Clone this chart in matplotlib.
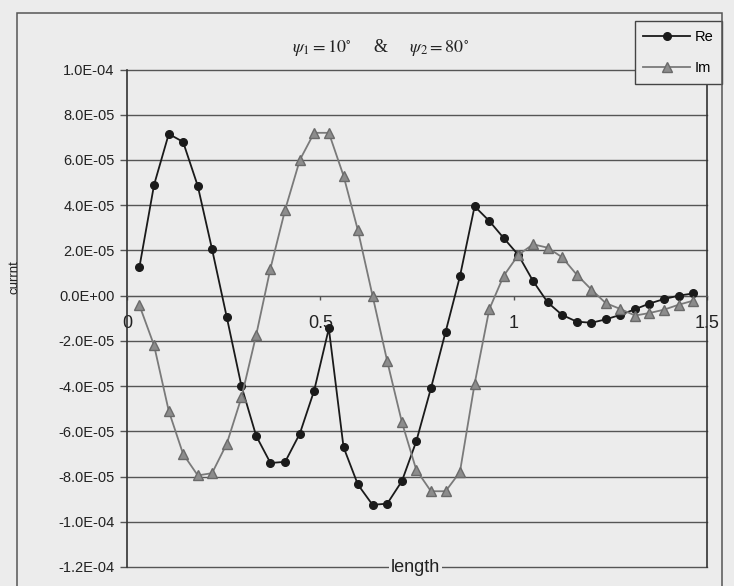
import numpy as np
import matplotlib
matplotlib.use("Agg")
import matplotlib.pyplot as plt
from matplotlib.patches import Rectangle

# data (current in units of 1e-5)
length = [0.032, 0.070, 0.108, 0.145, 0.183, 0.220, 0.258, 0.296, 0.334, 0.371,
          0.409, 0.447, 0.484, 0.522, 0.560, 0.597, 0.635, 0.673, 0.711, 0.748,
          0.786, 0.824, 0.861, 0.899, 0.937, 0.974, 1.012, 1.050, 1.088, 1.125,
          1.163, 1.201, 1.238, 1.276, 1.314, 1.351, 1.389, 1.427, 1.465]
re_vals = np.array([1.25, 4.9, 7.15, 6.8, 4.85, 2.05, -0.95, -4.0, -6.2, -7.4,
                    -7.35, -6.1, -4.2, -1.45, -6.7, -8.35, -9.25, -9.2, -8.2, -6.45,
                    -4.1, -1.6, 0.85, 3.95, 3.3, 2.55, 1.8, 0.65, -0.3, -0.85,
                    -1.15, -1.2, -1.05, -0.85, -0.6, -0.35, -0.15, 0.0, 0.1]) * 1e-5
im_vals = np.array([-0.42, -2.2, -5.1, -7.0, -7.95, -7.85, -6.55, -4.5, -1.75, 1.2,
                    3.8, 6.0, 7.2, 7.2, 5.3, 2.9, 0.0, -2.9, -5.6, -7.7,
                    -8.65, -8.65, -7.8, -3.9, -0.6, 0.87, 1.8, 2.27, 2.12, 1.7,
                    0.93, 0.27, -0.33, -0.59, -0.88, -0.77, -0.62, -0.40, -0.22]) * 1e-5

y_ticks = [1.0e-4, 8.0e-5, 6.0e-5, 4.0e-5, 2.0e-5, 0.0, -2.0e-5, -4.0e-5,
           -6.0e-5, -8.0e-5, -1.0e-4, -1.2e-4]
y_tick_labels = ['1.0E-04', '8.0E-05', '6.0E-05', '4.0E-05', '2.0E-05', '0.0E+00',
                 '-2.0E-05', '-4.0E-05', '-6.0E-05', '-8.0E-05', '-1.0E-04', '-1.2E-04']
x_ticks = [0, 0.5, 1, 1.5]
x_tick_labels = ['0', '0.5', '1', '1.5']

bg = '#ececec'
W, H = 734, 586

plt.rcParams['font.family'] = ['Liberation Sans', 'DejaVu Sans']
plt.rcParams['mathtext.fontset'] = 'stix'

fig = plt.figure(figsize=(W / 100, H / 100), dpi=100, facecolor=bg)
ax = fig.add_axes([127 / W, 1 - 567 / H, (707 - 127) / W, (567 - 69.5) / H])
ax.set_facecolor(bg)

ax.plot(length, re_vals, color='#1a1a1a', lw=1.3, marker='o', ms=5.5,
        mfc='#1a1a1a', mec='#1a1a1a', label='Re', zorder=3)
ax.plot(length, im_vals, color='#7a7a7a', lw=1.3, marker='^', ms=6.5,
        mfc='#8c8c8c', mec='#6a6a6a', label='Im', zorder=3)

ax.set_xlim(0, 1.5)
ax.set_ylim(-1.2e-4, 1.0e-4)
ax.set_yticks(y_ticks, labels=y_tick_labels)
ax.set_xticks(x_ticks, labels=x_tick_labels)

ax.grid(axis='y', color='#555555', lw=1.0)
for gl in ax.get_ygridlines():
    gl.set_clip_on(False)

ax.spines['bottom'].set_position(('data', 0))
ax.spines['bottom'].set_color('#555555')
ax.spines['top'].set_visible(False)
for side in ('left', 'right'):
    ax.spines[side].set_color('#333333')
    ax.spines[side].set_linewidth(1.2)

ax.tick_params(axis='y', direction='out', length=5, width=1, color='#555555',
               pad=4, labelsize=10.5, labelcolor='#222222')
ax.tick_params(axis='x', direction='out', length=3, width=1, color='#555555',
               pad=11, labelsize=13, labelcolor='#222222')

# axis titles
ax.text(0.746, -1.2e-4, 'length', fontsize=13, color='#222222', ha='center',
        va='center', bbox=dict(facecolor=bg, edgecolor='none', pad=1.5), zorder=4)
fig.text(14 / W, 1 - 277 / H, 'currnt', rotation=90, fontsize=9.5,
         color='#222222', ha='center', va='center')

fig.text(380 / W, 1 - 48 / H,
         r'$\psi_1 = 10^{\circ}$     &     $\psi_2 = 80^{\circ}$',
         fontsize=13, family='Liberation Serif', ha='center', va='center',
         color='#222222')

# outer chart frame
fig.patches.append(Rectangle((17 / W, -0.02), (722 - 17) / W, 1 - 13 / H + 0.02,
                             transform=fig.transFigure, fill=False,
                             edgecolor='#555555', lw=1.1))

leg = ax.legend(loc='upper right', bbox_to_anchor=(722 / W, 1 - 21 / H),
                bbox_transform=fig.transFigure, fontsize=10.5, frameon=True,
                fancybox=False, edgecolor='#444444', facecolor=bg, framealpha=1,
                handlelength=3.2, labelspacing=1.2, borderpad=0.6,
                handletextpad=0.3, borderaxespad=0)
leg.get_frame().set_linewidth(1.0)

fig.savefig('out.png', dpi=100, facecolor=bg)
